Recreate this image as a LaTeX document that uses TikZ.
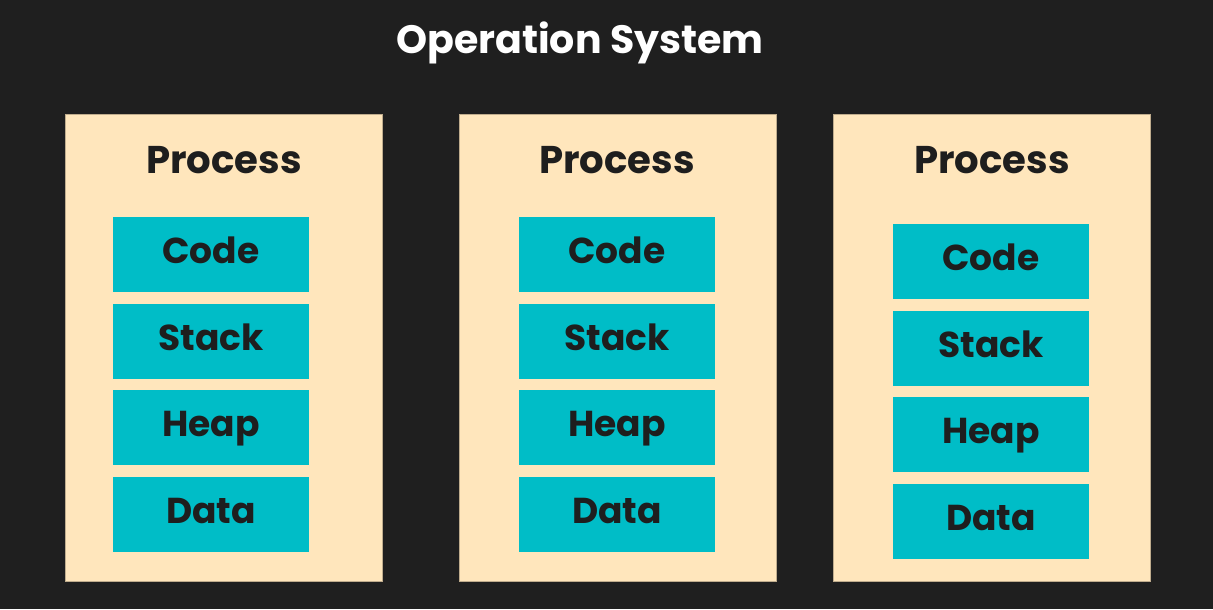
\documentclass[tikz,border=0pt]{standalone}
\usepackage{fontspec}
\setmainfont{Poppins}
\usepackage{tikz}
\usetikzlibrary{positioning}

\definecolor{sfondo}{HTML}{1F1F1F}
\definecolor{crema}{HTML}{FFE6BC}
\definecolor{turchese}{HTML}{00BDC7}
\definecolor{inchiostro}{HTML}{1E1E1E}

\tikzset{
    procbox/.style={fill=crema, draw=crema!75!black, line width=0.4pt,
        minimum width=6.34cm, minimum height=9.34cm, inner sep=0pt, outer sep=0pt},
    proctitle/.style={text=inchiostro, font=\fontsize{22}{26}\selectfont\bfseries, inner sep=0pt},
    segbox/.style={fill=turchese, minimum width=3.92cm, minimum height=1.5cm,
        inner sep=0pt, outer sep=0pt, text=inchiostro,
        font=\fontsize{20.5}{24}\selectfont\bfseries,
        text height=14.3pt, text depth=4.1pt},
    titletext/.style={text=white, font=\fontsize{22.5}{27}\selectfont\bfseries, inner sep=0pt}
}

\begin{document}
\begin{tikzpicture}[x=0.02cm, y=-0.02cm]

    % ==========================================
    % 1. SFONDO E TITOLO
    % ==========================================
    \fill[sfondo] (0,0) rectangle (1213,609);
    \useasboundingbox (0,0) rectangle (1213,609);

    \node[titletext, anchor=base] (titolo) at (580,53) {Operation System};

    % ==========================================
    % 2. I TRE PROCESSI
    % ==========================================
    % bx = bordo sinistro, px = centro del titolo, sx/sy = primo segmento
    \foreach \bx/\px/\sx/\sy [count=\i] in {65/224/113/217, 459/617/519/217, 833/992/893/224} {
        \node[procbox, anchor=north west] (proc\i) at (\bx,114) {};
        \node[proctitle, anchor=base] (titproc\i) at (\px,173) {Process};

        % Segmenti di memoria
        \foreach \seg [count=\j from 0] in {Code, Stack, Heap, Data}
            \node[segbox, anchor=north west] (\seg\i) at (\sx,\sy+\j*86.7) {\seg};
    }

\end{tikzpicture}
\end{document}
